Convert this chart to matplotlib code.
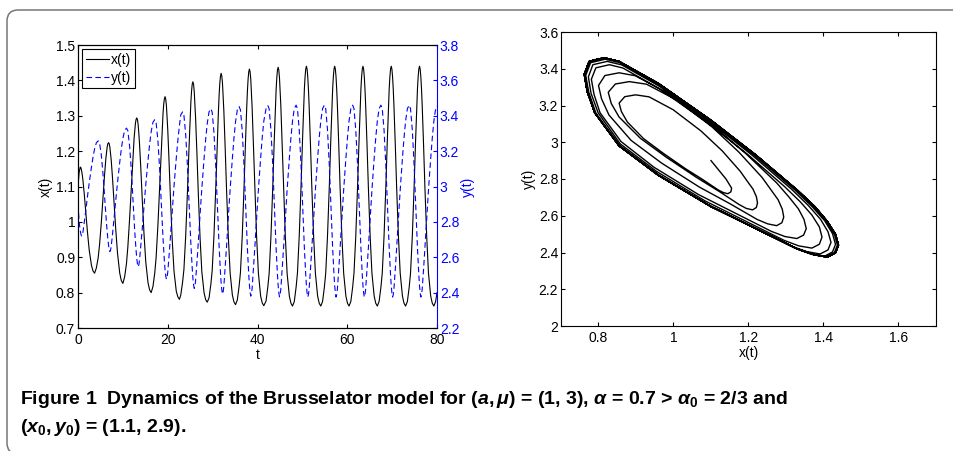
import numpy as np
import matplotlib.pyplot as plt
from matplotlib.patches import FancyBboxPatch
from matplotlib.transforms import IdentityTransform
from matplotlib.ticker import FormatStrFormatter

plt.rcParams['font.family'] = ['Liberation Sans', 'DejaVu Sans']
plt.rcParams['mathtext.fontset'] = 'custom'
plt.rcParams['mathtext.rm'] = 'Liberation Sans:bold'
plt.rcParams['mathtext.it'] = 'Liberation Sans:italic:bold'
plt.rcParams['mathtext.bf'] = 'Liberation Sans:bold'

# samples (one row per oscillation)
t = [0.0, 0.25,
     0.5, 0.65, 0.8, 0.95, 1.1, 1.4, 1.7, 2.1, 2.5, 3.0, 3.35, 3.7, 4.1, 4.5, 4.8, 5.2, 5.6, 5.9, 6.2, 6.35, 6.5, 6.65,
     6.8, 6.95, 7.1, 7.25, 7.4, 7.7, 8.0, 8.4, 8.8, 9.3, 9.65, 10.0, 10.4, 10.8, 11.1, 11.5, 11.9, 12.2, 12.5, 12.65, 12.8, 12.95,
     13.1, 13.25, 13.4, 13.55, 13.7, 14.0, 14.3, 14.7, 15.1, 15.6, 15.95, 16.3, 16.7, 17.1, 17.4, 17.8, 18.2, 18.5, 18.8, 18.95, 19.1, 19.25,
     19.4, 19.55, 19.7, 19.85, 20.0, 20.3, 20.6, 21.0, 21.4, 21.9, 22.25, 22.6, 22.9, 23.3, 23.6, 24.0, 24.4, 24.7, 25.0, 25.15, 25.3, 25.45,
     25.6, 25.75, 25.9, 26.05, 26.2, 26.5, 26.8, 27.2, 27.6, 28.1, 28.45, 28.8, 29.2, 29.6, 29.9, 30.3, 30.7, 31.0, 31.3, 31.45, 31.6, 31.75,
     31.9, 32.05, 32.2, 32.35, 32.5, 32.8, 33.1, 33.5, 33.9, 34.4, 34.75, 35.1, 35.5, 35.9, 36.2, 36.6, 37.0, 37.3, 37.6, 37.75, 37.9, 38.05,
     38.2, 38.35, 38.5, 38.65, 38.8, 39.1, 39.4, 39.8, 40.2, 40.7, 41.05, 41.4, 41.9, 42.3, 42.6, 43.0, 43.4, 43.7, 44.0, 44.15, 44.3, 44.45,
     44.6, 44.75, 44.9, 45.05, 45.2, 45.5, 45.8, 46.2, 46.6, 47.1, 47.45, 47.8, 48.2, 48.6, 48.9, 49.3, 49.7, 50.0, 50.3, 50.45, 50.6, 50.75,
     50.9, 51.05, 51.2, 51.35, 51.5, 51.8, 52.1, 52.5, 52.9, 53.4, 53.75, 54.1, 54.5, 54.9, 55.2, 55.6, 56.0, 56.3, 56.6, 56.75, 56.9, 57.05,
     57.2, 57.35, 57.5, 57.65, 57.8, 58.1, 58.4, 58.8, 59.2, 59.7, 60.05, 60.4, 60.8, 61.2, 61.5, 61.9, 62.3, 62.6, 62.9, 63.05, 63.2, 63.35,
     63.5, 63.65, 63.8, 63.95, 64.1, 64.4, 64.7, 65.1, 65.5, 66.0, 66.35, 66.7, 67.1, 67.5, 67.8, 68.2, 68.6, 68.9, 69.2, 69.35, 69.5, 69.65,
     69.8, 69.95, 70.1, 70.25, 70.4, 70.7, 71.0, 71.4, 71.8, 72.3, 72.65, 73.0, 73.4, 73.8, 74.1, 74.5, 74.9, 75.2, 75.5, 75.65, 75.8, 75.95,
     76.1, 76.25, 76.4, 76.55, 76.7, 77.0, 77.3, 77.7, 78.1, 78.6, 78.95, 79.3, 79.7, 80.0]

x_t = [1.100, 1.140,
       1.155, 1.153, 1.145, 1.133, 1.118, 1.078, 1.032, 0.972, 0.920, 0.877, 0.861, 0.855, 0.870, 0.899, 0.935, 0.999, 1.073, 1.130, 1.178, 1.196, 1.212, 1.221,
       1.224, 1.221, 1.211, 1.194, 1.175, 1.122, 1.061, 0.981, 0.912, 0.855, 0.834, 0.826, 0.845, 0.882, 0.928, 1.009, 1.102, 1.174, 1.236, 1.259, 1.279, 1.290,
       1.294, 1.289, 1.275, 1.251, 1.223, 1.151, 1.069, 0.968, 0.887, 0.828, 0.808, 0.800, 0.817, 0.855, 0.898, 0.989, 1.102, 1.193, 1.275, 1.307, 1.333, 1.348,
       1.354, 1.347, 1.329, 1.297, 1.261, 1.168, 1.067, 0.948, 0.860, 0.804, 0.788, 0.781, 0.793, 0.829, 0.865, 0.961, 1.088, 1.197, 1.296, 1.338, 1.369, 1.389,
       1.396, 1.389, 1.369, 1.334, 1.295, 1.194, 1.084, 0.955, 0.858, 0.799, 0.780, 0.773, 0.785, 0.823, 0.862, 0.962, 1.096, 1.210, 1.315, 1.359, 1.392, 1.412,
       1.420, 1.412, 1.391, 1.355, 1.314, 1.208, 1.092, 0.957, 0.856, 0.793, 0.774, 0.766, 0.779, 0.818, 0.857, 0.960, 1.098, 1.216, 1.324, 1.369, 1.403, 1.424,
       1.432, 1.424, 1.403, 1.365, 1.324, 1.215, 1.097, 0.958, 0.855, 0.790, 0.771, 0.763, 0.776, 0.816, 0.855, 0.960, 1.099, 1.219, 1.328, 1.374, 1.407, 1.429,
       1.437, 1.429, 1.407, 1.370, 1.328, 1.218, 1.099, 0.959, 0.854, 0.790, 0.770, 0.762, 0.775, 0.815, 0.855, 0.960, 1.100, 1.220, 1.330, 1.377, 1.410, 1.432,
       1.440, 1.432, 1.410, 1.375, 1.330, 1.220, 1.100, 0.960, 0.855, 0.790, 0.770, 0.762, 0.775, 0.815, 0.855, 0.960, 1.100, 1.220, 1.330, 1.377, 1.410, 1.432,
       1.440, 1.432, 1.410, 1.375, 1.330, 1.220, 1.100, 0.960, 0.855, 0.790, 0.770, 0.762, 0.775, 0.815, 0.855, 0.960, 1.100, 1.220, 1.330, 1.377, 1.410, 1.432,
       1.440, 1.432, 1.410, 1.375, 1.330, 1.220, 1.100, 0.960, 0.855, 0.790, 0.770, 0.762, 0.775, 0.815, 0.855, 0.960, 1.100, 1.220, 1.330, 1.377, 1.410, 1.432,
       1.440, 1.432, 1.410, 1.375, 1.330, 1.220, 1.100, 0.960, 0.855, 0.790, 0.770, 0.762, 0.775, 0.815, 0.855, 0.960, 1.100, 1.220, 1.330, 1.377, 1.410, 1.432,
       1.440, 1.432, 1.410, 1.375, 1.330, 1.220, 1.100, 0.960, 0.855, 0.790, 0.770, 0.762, 0.775, 0.800]

y_t = [2.900, 2.800,
       2.750, 2.730, 2.720, 2.726, 2.742, 2.797, 2.856, 2.941, 3.020, 3.110, 3.167, 3.213, 3.248, 3.258, 3.247, 3.177, 3.062, 2.953, 2.842, 2.790, 2.745, 2.704,
       2.670, 2.645, 2.632, 2.640, 2.661, 2.732, 2.809, 2.918, 3.021, 3.137, 3.211, 3.272, 3.317, 3.330, 3.316, 3.229, 3.085, 2.947, 2.809, 2.744, 2.687, 2.636,
       2.593, 2.562, 2.546, 2.556, 2.580, 2.665, 2.756, 2.887, 3.010, 3.148, 3.237, 3.309, 3.363, 3.378, 3.362, 3.262, 3.096, 2.938, 2.779, 2.704, 2.638, 2.580,
       2.530, 2.495, 2.476, 2.487, 2.515, 2.611, 2.715, 2.864, 3.004, 3.161, 3.261, 3.343, 3.405, 3.422, 3.404, 3.293, 3.110, 2.935, 2.759, 2.676, 2.604, 2.539,
       2.484, 2.445, 2.424, 2.436, 2.466, 2.569, 2.681, 2.841, 2.991, 3.160, 3.267, 3.356, 3.422, 3.440, 3.421, 3.305, 3.112, 2.929, 2.744, 2.657, 2.581, 2.513,
       2.455, 2.414, 2.392, 2.405, 2.435, 2.544, 2.660, 2.827, 2.983, 3.159, 3.272, 3.364, 3.433, 3.452, 3.433, 3.314, 3.116, 2.929, 2.740, 2.651, 2.573, 2.503,
       2.444, 2.403, 2.380, 2.393, 2.424, 2.534, 2.653, 2.822, 2.982, 3.160, 3.275, 3.369, 3.439, 3.458, 3.439, 3.318, 3.119, 2.930, 2.740, 2.650, 2.571, 2.500,
       2.441, 2.399, 2.376, 2.389, 2.420, 2.531, 2.650, 2.820, 2.981, 3.161, 3.276, 3.370, 3.440, 3.460, 3.440, 3.320, 3.120, 2.931, 2.740, 2.650, 2.570, 2.500,
       2.440, 2.398, 2.375, 2.388, 2.420, 2.530, 2.650, 2.820, 2.980, 3.160, 3.275, 3.370, 3.440, 3.460, 3.440, 3.320, 3.120, 2.930, 2.740, 2.650, 2.570, 2.500,
       2.440, 2.398, 2.375, 2.388, 2.420, 2.530, 2.650, 2.820, 2.980, 3.160, 3.275, 3.370, 3.440, 3.460, 3.440, 3.320, 3.120, 2.930, 2.740, 2.650, 2.570, 2.500,
       2.440, 2.398, 2.375, 2.388, 2.420, 2.530, 2.650, 2.820, 2.980, 3.160, 3.275, 3.370, 3.440, 3.460, 3.440, 3.320, 3.120, 2.930, 2.740, 2.650, 2.570, 2.500,
       2.440, 2.398, 2.375, 2.388, 2.420, 2.530, 2.650, 2.820, 2.980, 3.160, 3.275, 3.370, 3.440, 3.460, 3.440, 3.320, 3.120, 2.930, 2.740, 2.650, 2.570, 2.500,
       2.440, 2.398, 2.375, 2.388, 2.420, 2.530, 2.650, 2.820, 2.980, 3.160, 3.275, 3.370, 3.440, 3.455]

t_ticks = [0, 20, 40, 60, 80]
x_ticks_left = [0.7, 0.8, 0.9, 1.0, 1.1, 1.2, 1.3, 1.4, 1.5]
y_ticks_right = [2.2, 2.4, 2.6, 2.8, 3.0, 3.2, 3.4, 3.6, 3.8]
phase_x_ticks = [0.8, 1.0, 1.2, 1.4, 1.6]
phase_y_ticks = [2.0, 2.2, 2.4, 2.6, 2.8, 3.0, 3.2, 3.4, 3.6]

caption1 = r"Figure 1  Dynamics of the Brusselator model for $(a,\mu)$ = (1, 3), $\alpha$ = 0.7 > $\alpha_0$ = 2/3 and"
caption2 = r"$(x_0,y_0)$ = (1.1, 2.9)."

assert len(t) == len(x_t) == len(y_t)

W, H = 954, 451
fig = plt.figure(figsize=(W / 100, H / 100), dpi=100)
fmt = FormatStrFormatter('%g')
fs = 10

# --- left: time series ---
ax1 = fig.add_axes([78 / W, 1 - 328 / H, 359 / W, 283 / H])
l1, = ax1.plot(t, x_t, color='k', lw=0.8, label='x(t)')
ax1.set_xlim(0, 80)
ax1.set_ylim(0.7, 1.5)
ax1.set_xticks(t_ticks)
ax1.set_yticks(x_ticks_left)
ax1.xaxis.set_major_formatter(fmt)
ax1.yaxis.set_major_formatter(fmt)
ax1.tick_params(direction='in', top=True, right=False, length=3, labelsize=fs, pad=2)
ax1.tick_params(axis='x', pad=3.5)
ax1.spines['right'].set_visible(False)
ax1.set_xlabel('t', fontsize=fs, labelpad=1)
ax1.set_ylabel('x(t)', fontsize=fs, labelpad=2)

ax2 = ax1.twinx()
l2, = ax2.plot(t, y_t, color='b', lw=0.8, ls=(0, (5, 3)), label='y(t)')
ax2.set_ylim(2.2, 3.8)
ax2.set_yticks(y_ticks_right)
ax2.yaxis.set_major_formatter(fmt)
ax2.tick_params(axis='y', direction='in', length=3, labelsize=fs, colors='b', pad=2)
ax2.spines['right'].set_color('b')
ax2.set_ylabel('y(t)', fontsize=fs, color='b', labelpad=1)
leg = ax2.legend(handles=[l1, l2], loc='upper left', fontsize=fs, frameon=True,
                 fancybox=False, edgecolor='k', framealpha=1, borderaxespad=0.3,
                 handlelength=1.7, handletextpad=0.15, borderpad=0.25, labelspacing=0.3)
leg.get_frame().set_linewidth(0.8)

# --- right: phase plane ---
ax3 = fig.add_axes([561 / W, 1 - 326 / H, 375 / W, 294 / H])
ax3.plot(x_t, y_t, color='k', lw=1.0)
ax3.set_xlim(0.7, 1.7)
ax3.set_ylim(2.0, 3.6)
ax3.set_xticks(phase_x_ticks)
ax3.set_yticks(phase_y_ticks)
ax3.xaxis.set_major_formatter(fmt)
ax3.yaxis.set_major_formatter(fmt)
ax3.tick_params(direction='in', top=True, right=True, length=3, labelsize=fs, pad=2)
ax3.tick_params(axis='x', pad=3.5)
ax3.set_xlabel('x(t)', fontsize=fs, labelpad=1)
ax3.set_ylabel('y(t)', fontsize=fs, labelpad=2)

for ax in (ax1, ax2, ax3):
    for sp in ax.spines.values():
        sp.set_linewidth(0.8)

# caption + frame
fig.text(20 / W, 1 - 404 / H, caption1, fontsize=14, fontweight='bold', va='baseline')
fig.text(20 / W, 1 - 432 / H, caption2, fontsize=14, fontweight='bold', va='baseline')

frame = FancyBboxPatch((7, -3), 1000, 444, boxstyle='round,pad=0,rounding_size=11',
                       transform=IdentityTransform(), fill=False, edgecolor='#777777', lw=1.1)
fig.add_artist(frame)

fig.savefig('out.png', dpi=100)
